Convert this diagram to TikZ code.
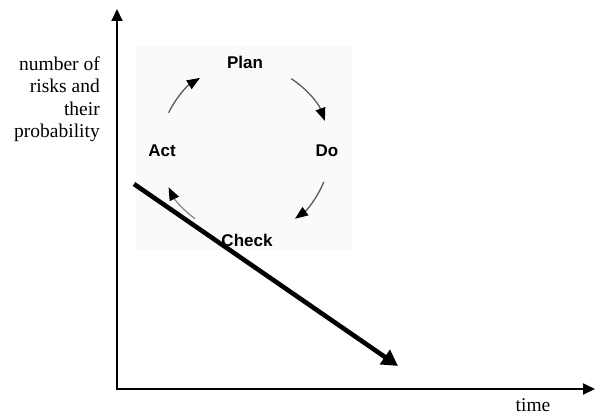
\documentclass[tikz,border=0pt]{standalone}
\usepackage{fontspec}
\setmainfont{Liberation Serif}
\newfontfamily\cyclefont{Liberation Sans}
\usetikzlibrary{arrows.meta,calc}
\begin{document}
\begin{tikzpicture}[x=1pt,y=1pt,
  axis/.style={line width=1.8pt,-{Triangle[length=12pt,width=11pt]}},
  trend/.style={line width=4.6pt,-{Triangle[length=16pt,width=17pt]}},
  cyclearrow/.style={draw=black!65,line width=1.3pt,-{Triangle[length=13pt,width=10pt,color=black]}},
  phase/.style={font=\cyclefont\bfseries\fontsize{17}{19}\selectfont,inner sep=0pt},
  axislabel/.style={font=\fontsize{19.5}{22.5}\selectfont,inner sep=0pt}]
\useasboundingbox (0,0) rectangle (596,415);

% PDCA panel
\node[fill=black!2,minimum width=216pt,minimum height=204pt,inner sep=0pt,anchor=north west] (panel) at (136,369) {};
\coordinate (c) at (245,265);
\node[phase] (plan) at (245,353) {Plan};
\node[phase] (do) at (327,264) {Do};
\node[phase] (check) at (247,175) {Check};
\node[phase] (act) at (162,264) {Act};

% cycle arrows along a circle around (c)
\draw[cyclearrow] ($(c)+(57:85)$) arc[start angle=57,end angle=20,radius=85];
\draw[cyclearrow] ($(c)+(-22:85)$) arc[start angle=-22,end angle=-54,radius=85];
\draw[cyclearrow,draw=black!45] ($(c)+(234:85)$) arc[start angle=234,end angle=206,radius=85];
\draw[cyclearrow] ($(c)+(154:85)$) arc[start angle=154,end angle=122,radius=85];

% axes
\coordinate (origin) at (117,26);
\coordinate (ytip) at (117,406);
\coordinate (xtip) at (595,26);
\draw[axis] (origin) -- (ytip);
\draw[axis] ([xshift=-0.9pt]origin) -- (xtip);

% decreasing trend
\coordinate (tstart) at (134,231);
\coordinate (tend) at (398,49);
\draw[trend] (tstart) -- (tend);

% axis labels
\node[axislabel,align=right,anchor=east] (ylab) at (100,316) {number of\\risks and\\their\\probability};
\node[axislabel] (xlab) at (533,10) {time};
\end{tikzpicture}
\end{document}
